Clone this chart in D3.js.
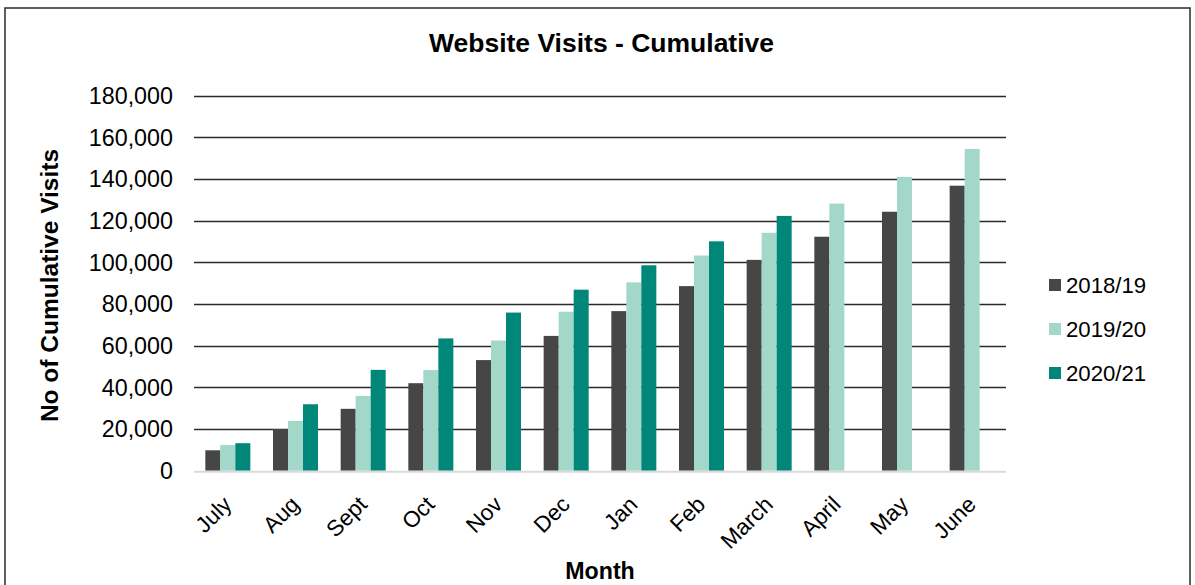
<!DOCTYPE html>
<html><head><meta charset="utf-8">
<script src="https://cdn.jsdelivr.net/npm/d3@7"></script>
<style>body{margin:0;background:#fff}svg{display:block;font-family:"Liberation Sans",Arial,sans-serif}</style>
</head><body><svg id="c" width="1195" height="585"></svg>
<script>
const months = ["July","Aug","Sept","Oct","Nov","Dec","Jan","Feb","March","April","May","June"];
const seriesNames = ["2018/19","2019/20","2020/21"];
const colors = ["#464646","#a3d7c9","#00877a"];
const v2018 = [9800,20000,29700,42000,53100,64700,76600,88600,101200,112300,124300,136800];
const v2019 = [12300,23900,35900,48300,62500,76300,90400,103300,114200,128200,141000,154400];
const v2020 = [13200,31900,48400,63500,75900,86900,98600,110100,122300,null,null,null];
const yTicks = [0,20000,40000,60000,80000,100000,120000,140000,160000,180000];

const svg = d3.select("#c");
const L = 194, R = 1006, T = 95.7, B = 470.7;
const data = [v2018, v2019, v2020];

svg.append("rect").attr("x",5).attr("y",8).attr("width",1185).attr("height",600)
  .attr("fill","none").attr("stroke","#2a2a2a").attr("stroke-width",1.5);

const x0 = d3.scaleBand().domain(months).range([L,R]).padding(0);
const x1 = d3.scaleBand().domain(seriesNames).range([0,x0.bandwidth()]).paddingInner(0).paddingOuter(0.755);
const y = d3.scaleLinear().domain([0,180000]).range([B,T]);

// gridlines
svg.append("g").selectAll("line").data(yTicks.filter(d=>d>0)).join("line")
  .attr("x1",L).attr("x2",R).attr("y1",d=>Math.round(y(d))+0.5).attr("y2",d=>Math.round(y(d))+0.5)
  .attr("stroke","#2b2b2b").attr("stroke-width",1.3);

// y tick labels
svg.append("g").selectAll("text").data(yTicks).join("text")
  .attr("x",173).attr("y",d=>y(d)).attr("dy","0.36em").attr("text-anchor","end")
  .attr("font-size",23.3).attr("fill","#000").text(d=>d3.format(",")(d));

// bars
seriesNames.forEach((s,i)=>{
  svg.append("g").selectAll("rect").data(months.map((m,j)=>({m,v:data[i][j]})).filter(d=>d.v!=null)).join("rect")
    .attr("x",d=>x0(d.m)+x1(s)).attr("width",x1.bandwidth())
    .attr("y",d=>y(d.v)).attr("height",d=>B-y(d.v))
    .attr("fill",colors[i]);
});

// axis line
svg.append("line").attr("x1",L).attr("x2",R).attr("y1",B+1).attr("y2",B+1)
  .attr("stroke","#d9d9d9").attr("stroke-width",2);

// x labels
svg.append("g").selectAll("text").data(months).join("text")
  .attr("transform",d=>`translate(${x0(d)+x0.bandwidth()/2-6},${B+24}) rotate(-45)`)
  .attr("text-anchor","end").attr("dy","0.7em").attr("font-size",22.5).attr("fill","#000").text(d=>d);

// title
svg.append("text").attr("x",601.5).attr("y",52).attr("text-anchor","middle")
  .attr("font-size",26.5).attr("font-weight","bold").text("Website Visits - Cumulative");

// axis titles
svg.append("text").attr("transform","translate(58,285.5) rotate(-90)").attr("text-anchor","middle")
  .attr("font-size",24.5).attr("font-weight","bold").text("No of Cumulative Visits");
svg.append("text").attr("x",600).attr("y",579).attr("text-anchor","middle")
  .attr("font-size",23.2).attr("font-weight","bold").text("Month");

// legend
const lg = svg.append("g").selectAll("g").data(seriesNames).join("g")
  .attr("transform",(d,i)=>`translate(1049,${279+i*44})`);
lg.append("rect").attr("width",12).attr("height",12).attr("fill",(d,i)=>colors[i]);
lg.append("text").attr("x",17).attr("y",6).attr("dy","0.36em").attr("font-size",22.2).text(d=>d);
</script></body></html>
